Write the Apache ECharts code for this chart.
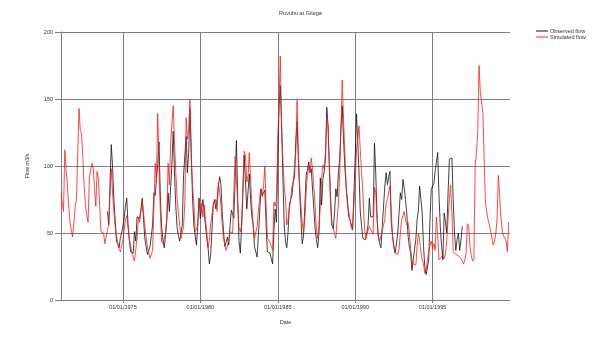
<!DOCTYPE html>
<html>
<head>
<meta charset="utf-8">
<script src="https://cdn.jsdelivr.net/npm/echarts@6/dist/echarts.min.js"></script>
<style>
  html, body { margin: 0; padding: 0; background: #ffffff; }
  #chart { width: 601px; height: 337px; }
</style>
</head>
<body>
<div id="chart"></div>
<script>
// Monthly river flow at the Gitega gauge (m3/s)
const titleText = 'Ruvubu at Gitega';
const xAxisName = 'Date';
const yAxisName = 'Flow m3/s';
const seriesNames = ['Observed flow', 'Simulated flow'];
const dateTickYears = [1975, 1980, 1985, 1990, 1995];

// Simulated flow, one value per month from January 1971
const simulatedStart = [1971, 1];
const simulatedFlow = [
  80, 72, 66, 112, 98, 86, 70, 58, 52, 47, 58, 69,        // 1971
  75, 110, 143, 126, 124, 105, 85, 70, 63, 58, 91, 97,    // 1972
  102, 98, 84, 70, 96, 91, 70, 51, 50, 50, 42, 47,        // 1973
  52, 57, 78, 98, 80, 66, 55, 48, 43, 38, 36, 37,         // 1974
  45, 53, 60, 63, 55, 45, 40, 36, 32, 29, 38, 46,         // 1975
  62, 58, 66, 74, 65, 55, 47, 40, 35, 31, 34, 37,         // 1976
  70, 102, 88, 139, 100, 66, 44, 42, 41, 50, 61, 102,     // 1977
  86, 118, 132, 145, 118, 95, 76, 65, 56, 46, 50, 55,     // 1978
  73, 136, 120, 128, 150, 105, 85, 73, 51, 53, 55, 76,    // 1979
  68, 72, 62, 71, 60, 51, 39, 45, 56, 64, 71, 73,         // 1980
  75, 66, 88, 80, 71, 56, 46, 41, 37, 36, 44, 51,         // 1981
  50, 50, 80, 107, 90, 72, 54, 51, 56, 85, 111, 108,      // 1982
  88, 93, 110, 90, 70, 56, 46, 46, 55, 66, 76, 83,        // 1983
  77, 85, 100, 70, 46, 45, 43, 40, 37, 73, 70, 75,        // 1984
  120, 150, 182, 130, 105, 85, 76, 56, 60, 68, 75, 85,    // 1985
  88, 100, 110, 149, 110, 85, 70, 58, 51, 60, 80, 93,     // 1986
  100, 95, 106, 98, 85, 70, 53, 46, 55, 70, 90, 101,      // 1987
  98, 110, 136, 130, 100, 70, 56, 54, 49, 46, 60, 71,     // 1988
  95, 130, 164, 135, 110, 85, 71, 66, 60, 54, 52, 51,     // 1989
  90, 112, 120, 130, 112, 95, 80, 58, 45, 45, 52, 55,     // 1990
  53, 52, 49, 84, 80, 62, 47, 44, 43, 52, 56, 60,         // 1991
  72, 75, 80, 85, 66, 46, 40, 35, 34, 34, 38, 50,         // 1992
  60, 63, 66, 60, 56, 58, 50, 38, 30, 27, 27, 26,         // 1993
  40, 50, 45, 35, 30, 27, 20, 22, 30, 36, 41, 44,         // 1994
  38, 42, 37, 62, 48, 30, 31, 32, 34, 31, 34, 45,         // 1995
  60, 76, 86, 65, 36, 35, 34, 33, 33, 32, 31, 31,         // 1996
  27, 30, 35, 57, 55, 40, 33, 29, 31, 100, 110, 125,      // 1997
  175, 155, 154, 140, 105, 73, 66, 60, 56, 52, 46, 41,    // 1998
  44, 50, 60, 93, 78, 62, 52, 48, 46, 44, 36, 58          // 1999
];

// Observed flow, one value per month from January 1974
const observedStart = [1974, 1];
const observedFlow = [
  66, 56, 85, 116, 100, 75, 60, 44, 42, 39, 46, 50,       // 1974
  55, 62, 70, 76, 56, 45, 36, 35, 35, 51, 44, 62,         // 1975
  61, 61, 68, 76, 60, 46, 40, 34, 34, 40, 48, 56,         // 1976
  80, 78, 90, 101, 118, 78, 55, 45, 39, 48, 60, 80,       // 1977
  66, 85, 101, 126, 95, 70, 54, 48, 44, 50, 56, 93,       // 1978
  108, 122, 95, 110, 143, 110, 76, 56, 48, 41, 56, 76,    // 1979
  61, 68, 75, 66, 56, 46, 39, 27, 34, 52, 71, 75,         // 1980
  68, 75, 85, 92, 86, 65, 51, 40, 43, 47, 41, 55,         // 1981
  67, 64, 61, 90, 119, 75, 44, 35, 55, 80, 108, 88,       // 1982
  68, 69, 94, 75, 62, 56, 40, 40, 32, 48, 65, 83,         // 1983
  78, 80, 82, 56, 36, 35, 35, 31, 27, 51, 68, 58,         // 1984
  105, 145, 160, 130, 93, 56, 44, 39, 51, 71, 75, 78,     // 1985
  88, 92, 118, 133, 105, 80, 61, 42, 48, 70, 93, 97,      // 1986
  103, 95, 98, 98, 68, 53, 45, 39, 51, 91, 71, 90,        // 1987
  96, 106, 144, 130, 100, 75, 56, 53, 65, 83, 77, 95,     // 1988
  106, 130, 145, 120, 100, 85, 75, 62, 60, 56, 53, 52,    // 1989
  106, 139, 119, 95, 66, 55, 46, 45, 45, 50, 56, 76,      // 1990
  62, 62, 62, 117, 95, 60, 48, 42, 39, 55, 70, 85,        // 1991
  95, 86, 92, 96, 58, 48, 40, 35, 34, 50, 65, 80,         // 1992
  75, 90, 84, 75, 65, 48, 40, 35, 22, 30, 38, 45,         // 1993
  60, 67, 85, 75, 65, 40, 25, 19, 24, 30, 60, 83,         // 1994
  82, 87, 96, 103, 110, 78, 55, 40, 30, 65, 58, 50,       // 1995
  80, 105, 106, 106, 75, 50, 37, 45, 50, 37, 45, 55       // 1996
];

function monthlyPoints(start, values) {
  return values.map(function (v, i) {
    return [Date.UTC(start[0], start[1] - 1 + i, 1), v];
  });
}

// Dates are plotted as millisecond timestamps on a value axis
const dateTicks = dateTickYears.map(function (y) { return Date.UTC(y, 0, 1); });
const gridColor = '#7d7d7d';
const textColor = '#333333';
const fontFamily = 'Liberation Sans, Arial, sans-serif';

const chart = echarts.init(document.getElementById('chart'), null, { renderer: 'canvas' });
chart.setOption({
  animation: false,
  backgroundColor: '#ffffff',
  textStyle: { fontFamily: fontFamily },
  title: {
    text: titleText,
    left: 'center',
    top: 5,
    textStyle: { fontSize: 5.5, fontWeight: 'normal', color: textColor, fontFamily: fontFamily }
  },
  legend: {
    orient: 'vertical',
    left: 531,
    top: 23,
    itemWidth: 12,
    itemHeight: 5,
    itemGap: 0,
    icon: 'path://M0,0 L12,0 L12,1 L0,1 Z',
    textStyle: { fontSize: 5.5, color: textColor, lineHeight: 5.5, padding: [0, 0, 0, -3] },
    data: seriesNames
  },
  grid: { left: 61, right: 91, top: 32, bottom: 37, containLabel: false },
  xAxis: {
    type: 'value',
    min: Date.UTC(1971, 0, 1),
    max: Date.UTC(2000, 0, 1),
    name: xAxisName,
    nameLocation: 'middle',
    nameGap: 19,
    nameTextStyle: { fontSize: 5.5, color: textColor },
    axisLine: { show: true, lineStyle: { color: gridColor, width: 1 } },
    axisTick: { show: true, length: 3, customValues: dateTicks, lineStyle: { color: gridColor } },
    axisLabel: {
      customValues: dateTicks,
      fontSize: 5.5,
      color: textColor,
      margin: 4,
      formatter: function (v) { return '01/01/' + new Date(v).getUTCFullYear(); }
    },
    splitLine: { show: true, lineStyle: { color: gridColor, width: 1 } }
  },
  yAxis: {
    type: 'value',
    min: 0,
    max: 200,
    interval: 50,
    name: yAxisName,
    nameLocation: 'middle',
    nameGap: 31,
    nameTextStyle: { fontSize: 5.5, color: textColor },
    axisLine: { show: true, lineStyle: { color: gridColor, width: 1 } },
    axisTick: { show: true, length: 6, lineStyle: { color: gridColor } },
    axisLabel: { fontSize: 5.5, color: textColor, margin: 8 },
    splitLine: { show: true, lineStyle: { color: gridColor, width: 1 } }
  },
  series: [
    {
      name: seriesNames[0],
      type: 'line',
      data: monthlyPoints(observedStart, observedFlow),
      symbol: 'none',
      lineStyle: { color: '#111111', width: 0.8 },
      itemStyle: { color: '#111111' }
    },
    {
      name: seriesNames[1],
      type: 'line',
      data: monthlyPoints(simulatedStart, simulatedFlow),
      symbol: 'none',
      lineStyle: { color: '#ff1a1a', width: 0.8 },
      itemStyle: { color: '#ff1a1a' }
    }
  ]
});
</script>
</body>
</html>
